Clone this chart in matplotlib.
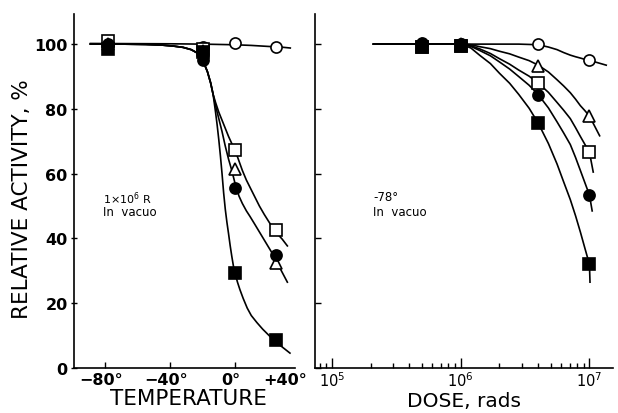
import numpy as np
import matplotlib
matplotlib.use("Agg")
import matplotlib.pyplot as plt
import matplotlib.transforms as mtransforms

# ---------------------------------------------------------------------------
#  DATA
# ---------------------------------------------------------------------------
# left panel: relative activity vs irradiation temperature (1e6 R, in vacuo)
temp_pts = [-78, -20, 0, 25]
temp_open_circle = [100, 99, 100.3, 99.2]
temp_open_square = [101, 98.5, 67.3, 42.5]
temp_triangle = [100, 98, 61.5, 32.5]
temp_filled_circle = [100, 95, 55.5, 35]
temp_filled_square = [98.5, 97.5, 29.3, 8.5]

# drawn curves, left panel
oc_curve_t = [-89, -40, -20, -10, 0, 10, 20, 30, 34]
oc_curve_v = [100.2, 100.1, 100, 99.9, 99.8, 99.6, 99.3, 99.0, 98.8]

common_t = [-89, -70, -55, -45, -38, -32, -27, -23, -20, -17, -15, -13.5]
common_v = [100, 100, 99.9, 99.7, 99.4, 99.0, 98.3, 97.2, 95.2, 91.5, 88, 84.5]

fs_branch_t = [-12, -11, -10, -9, -8, -7, -6, -5, -4, -3, -2, -1, 0, 1.5, 3, 5,
               7.5, 10, 13.5, 17, 21, 24.6, 29, 33.8]
fs_branch_v = [79, 75, 70.5, 65.5, 60, 54, 49, 45, 41.5, 37.8, 34.5, 31.5, 29.2,
               26.5, 24.2, 21.5, 18.5, 16.2, 14, 12, 10, 8.3, 6.5, 4.6]

cb_branch_t = [-12, -10, -8, -6, -4, -2, -1, 0, 1, 2.5, 4.5, 7, 9.2, 12, 15, 18,
               21, 24.6, 28, 32.2]
cb_branch_v = [81, 77, 73, 68.5, 64.5, 61, 59, 57, 55.2, 53, 50.8, 48.5, 46.8,
               44.5, 42, 39.5, 37, 34, 30.5, 26.5]

sq_branch_t = [-12, -10, -8, -6, -4, -2, 0, 2, 4.5, 7, 9.2, 12, 15, 18, 21, 25,
               29, 32.2]
sq_branch_v = [82, 79, 76.5, 74, 71.5, 69.3, 67.3, 64.5, 61, 58, 55.8, 53, 50,
               47.4, 45, 42, 39.8, 37.7]

# right panel: relative activity vs dose (-78 deg, in vacuo)
dose_pts = [5e5, 1e6, 4e6, 1e7]
dose_open_circle = [100, 100, 100, 95]
dose_open_square = [99, 99.5, 88, 66.6]
dose_triangle = [100, 100, 93.3, 77.8]
dose_filled_circle = [100.5, 100, 84.4, 53.4]
dose_filled_square = [99, 99.5, 75.6, 32]

# drawn curves, right panel
dose_curve = [2.1e5, 5e5, 1e6, 1.2e6, 1.41e6, 1.7e6, 2.0e6, 2.4e6, 2.82e6,
              3.4e6, 4.0e6, 4.8e6, 5.6e6, 6.3e6, 7.1e6, 7.8e6, 8.5e6, 9.2e6,
              1.0e7]
oc_dose_curve = [100, 100, 100, 100, 100, 100, 100, 100, 100,
                 99.9, 99.8, 99.1, 98.3, 97.4, 96.6, 96.1, 95.7, 95.3, 95]
tr_dose_curve = [100, 100, 100, 99.8, 99.2, 98.6, 97.8, 97, 96,
                 94.9, 93.5, 91.4, 89, 87.1, 85, 83, 81, 79.5, 77.8]
sq_dose_curve = [100, 100, 100, 99.5, 98.5, 97.1, 95.5, 93.8, 92,
                 90.1, 88, 85.1, 82, 79.6, 77, 74.2, 71.5, 69.1, 66.6]
fc_dose_curve = [100, 100, 100, 99.3, 98, 96.4, 94.5, 92.3, 90,
                 87.3, 84.4, 80.3, 76, 72.6, 69, 65, 61, 57.3, 53.4]
fs_dose_curve = [100, 100, 100, 98.8, 96.5, 94, 91, 87.9, 84.5,
                 80.2, 75.6, 69.3, 63, 57.5, 52, 47, 42, 37.1, 32]

# end points of the right curves (they run a little past 1e7)
oc_dose_end = (1.35e7, 93.5)
tr_dose_end = (1.2e7, 71.7)
sq_dose_end = (1.07e7, 60.5)
fc_dose_end = (1.05e7, 48.5)
fs_dose_end = (1.01e7, 26.5)

temp_ticks = [-80, -40, 0]
temp_ticklabels = ["\u221280\u00b0", "\u221240\u00b0", "0\u00b0"]
y_ticks = [0, 20, 40, 60, 80, 100]

# ---------------------------------------------------------------------------
#  STYLE
# ---------------------------------------------------------------------------
LW = 1.2
MS = 8
MEW = 1.2
plt.rcParams["font.family"] = "DejaVu Sans"

series = [
    ("o", "white"),
    ("s", "white"),
    ("^", "white"),
    ("o", "black"),
    ("s", "black"),
]

fig = plt.figure(figsize=(6.18, 4.14), dpi=100)
ax1 = fig.add_axes([74 / 618, 1 - 369 / 414, 221 / 618, 354 / 414])
ax2 = fig.add_axes([315 / 618, 1 - 369 / 414, 298 / 618, 354 / 414])

for ax in (ax1, ax2):
    for s in ("top", "right"):
        ax.spines[s].set_visible(False)
    for s in ("left", "bottom"):
        ax.spines[s].set_linewidth(LW)
    ax.set_ylim(0, 109.3)
    ax.set_yticks(y_ticks)

# --- left panel ---
ax1.plot(oc_curve_t, oc_curve_v, color="black", lw=LW, zorder=2)
for bt, bv in ((fs_branch_t, fs_branch_v), (cb_branch_t, cb_branch_v),
               (sq_branch_t, sq_branch_v)):
    ax1.plot(common_t + bt, common_v + bv, color="black", lw=LW, zorder=2)

temp_series = [temp_open_circle, temp_open_square, temp_triangle,
               temp_filled_circle, temp_filled_square]
for (m, fc), vals in zip(series, temp_series):
    ax1.plot(temp_pts, vals, ls="none", marker=m, ms=MS, mfc=fc, mec="black",
             mew=MEW, zorder=3)

ax1.set_xlim(-99.1, 36.9)
ax1.set_xticks(temp_ticks)
ax1.set_xticklabels(temp_ticklabels, fontsize=11.5, fontweight="bold")
ax1.tick_params(axis="x", direction="in", length=4, width=1, pad=3)
ax1.tick_params(axis="y", direction="inout", length=5, width=1, pad=2,
                labelsize=11.5)
for lab in ax1.get_yticklabels():
    lab.set_fontweight("bold")
shift = mtransforms.ScaledTranslation(-4 / 100, 0, fig.dpi_scale_trans)
for lab in ax1.get_xticklabels():
    lab.set_transform(lab.get_transform() + shift)
ax1.text(30.8, -4.2 / 354, "+40\u00b0", transform=ax1.get_xaxis_transform(),
         ha="center", va="top", fontsize=11.5, fontweight="bold")

ax1.set_ylabel("RELATIVE ACTIVITY, %", fontsize=15.5)
ax1.yaxis.set_label_coords(-0.19, 0.48)
ax1.set_xlabel("TEMPERATURE", fontsize=15.5)
ax1.xaxis.set_label_coords(0.52, -0.057)
ax1.text(-81.2, 52.6, "1\u00d710$^6$ R", fontsize=8, va="center")
ax1.text(-81.2, 48.2, "In  vacuo", fontsize=8.5, va="center")

# --- right panel ---
for curve, end in ((oc_dose_curve, oc_dose_end), (tr_dose_curve, tr_dose_end),
                   (sq_dose_curve, sq_dose_end), (fc_dose_curve, fc_dose_end),
                   (fs_dose_curve, fs_dose_end)):
    ax2.plot(dose_curve + [end[0]], curve + [end[1]], color="black", lw=LW,
             zorder=2)

dose_series = [dose_open_circle, dose_open_square, dose_triangle,
               dose_filled_circle, dose_filled_square]
for (m, fc), vals in zip(series, dose_series):
    ax2.plot(dose_pts, vals, ls="none", marker=m, ms=MS, mfc=fc, mec="black",
             mew=MEW, zorder=3)

ax2.set_xscale("log")
ax2.set_xlim(10 ** 4.868, 10 ** 7.183)
ax2.set_xticks([1e5, 1e6, 1e7])
ax2.set_xticklabels(["$10^5$", "$10^6$", "$10^7$"], fontsize=10.5)
ax2.tick_params(axis="x", which="major", direction="in", length=7, width=1,
                pad=2)
ax2.tick_params(axis="x", which="minor", direction="in", length=3.5, width=1)
ax2.tick_params(axis="y", direction="in", length=4, width=1, labelleft=False)
ax2.set_xlabel("DOSE, rads", fontsize=14.5)
ax2.xaxis.set_label_coords(0.5, -0.064)
ax2.text(2.1e5, 52.8, "-78\u00b0", fontsize=8.5, va="center")
ax2.text(2.1e5, 48.2, "In  vacuo", fontsize=8.5, va="center")

fig.savefig("out.png", dpi=100)
